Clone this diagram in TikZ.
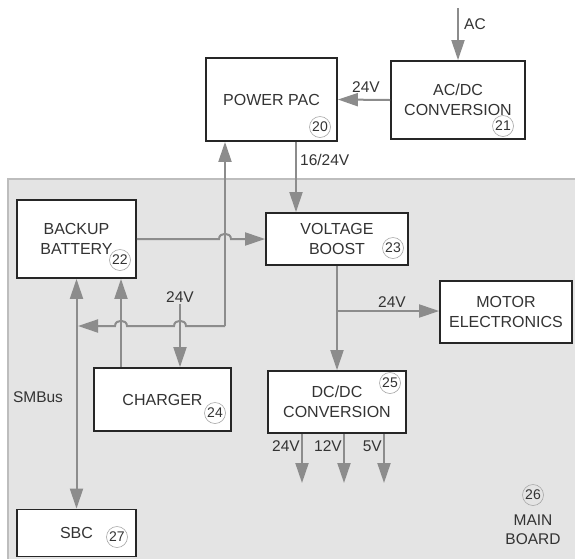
\documentclass[tikz,border=0pt]{standalone}
\usepackage{fontspec}
\setmainfont{Liberation Sans}
\usetikzlibrary{arrows.meta,positioning,calc}
\definecolor{wiregray}{HTML}{8C8C8C}
\definecolor{boardgray}{HTML}{E4E4E4}
\definecolor{boardedge}{HTML}{BDBDBD}
\definecolor{inkgray}{HTML}{333333}
\tikzset{
    % Block styles
    box/.style={rectangle, draw=black!85, line width=1.8pt, fill=white, align=center,
                inner sep=0pt, text=inkgray, font=\fontsize{16}{20}\selectfont},
    num/.style={circle, draw=black!35, line width=0.6pt, minimum size=21pt, inner sep=0pt,
                text=inkgray, font=\fontsize{14}{14}\selectfont},
    % Annotation styles
    lbl/.style={text=inkgray, font=\fontsize{15.5}{19}\selectfont, inner sep=1pt, align=center},
    % Arrow styles
    arrow/.style={-{Triangle[length=20pt,width=13pt]}, wiregray, line width=2pt},
    dblarrow/.style={{Triangle[length=20pt,width=13pt]}-{Triangle[length=20pt,width=13pt]}, wiregray, line width=2pt},
}

\begin{document}
\begin{tikzpicture}[x=1pt, y=-1pt]
    \useasboundingbox (0,0) rectangle (575,558);

    % Main board
    \filldraw[fill=boardgray, draw=boardedge, line width=1.5pt] (8,179) rectangle (590,575);

    % Blocks
    \node[box, minimum width=131pt, minimum height=83pt] (pwrpac) at (271.5,99.5) {POWER PAC};
    \node[box, minimum width=134pt, minimum height=78pt] (acdc) at (458,100) {AC/DC\\CONVERSION};
    \node[box, minimum width=119pt, minimum height=78pt] (battery) at (76.5,239) {BACKUP\\BATTERY};
    \node[box, minimum width=142pt, minimum height=52pt] (boost) at (337,239) {VOLTAGE\\BOOST};
    \node[box, minimum width=132pt, minimum height=62pt] (motor) at (506,312) {MOTOR\\ELECTRONICS};
    \node[box, minimum width=137pt, minimum height=63pt] (charger) at (162.5,399.5) {CHARGER};
    \node[box, minimum width=138pt, minimum height=62pt] (dcdc) at (337,402) {DC/DC\\CONVERSION};
    \node[box, minimum width=119pt, minimum height=47pt] (sbc) at (76.5,533) {SBC};

    % Reference numbers
    \node[num] (n20) at (320,127) {20};
    \node[num] (n21) at (503,126) {21};
    \node[num] (n22) at (120,260) {22};
    \node[num] (n23) at (393,248) {23};
    \node[num] (n24) at (215,413) {24};
    \node[num] (n25) at (390,383) {25};
    \node[num] (n26) at (533,495) {26};
    \node[num] (n27) at (117,537) {27};
    \node[lbl] (mainlbl) at (533,530) {MAIN\\BOARD};

    % Helper points
    \coordinate (acin) at (458,8);
    \coordinate (xpp) at (296,0);
    \coordinate (jn) at (225,326);
    \coordinate (tap) at (78,326);
    \coordinate (xch) at (121,0);
    \coordinate (br) at (337,311);

    % Arrows
    \draw[arrow] (acin) -- (acdc.north);
    \draw[arrow] (acdc.west) -- (pwrpac.east);
    \draw[arrow] (pwrpac.south -| xpp) -- (boost.north -| xpp);
    \draw[arrow] (jn) -- (pwrpac.south -| jn);
    \draw[arrow] (jn) -- (186,326) .. controls (186,319) and (174,319) .. (174,326)
        -- (127,326) .. controls (127,319) and (115,319) .. (115,326) -- (tap);
    \draw[arrow] (battery.east) -- (219,239) .. controls (219,232) and (231,232) .. (231,239)
        -- (boost.west);
    \draw[arrow] (charger.north -| xch) -- (battery.south -| xch);
    \draw[dblarrow] (battery.south) -- (sbc.north);
    \draw[arrow] (boost.south) -- (dcdc.north);
    \draw[arrow] (br) -- (motor.west |- br);
    \foreach \x/\v in {302/24V, 344/12V, 384/5V} {
        \coordinate (out\v) at (\x,483);
        \draw[arrow] (dcdc.south -| out\v) -- (out\v);
        \node[lbl, anchor=east] (lbl\v) at (\x-1,446) {\v};
    }

    % Labels
    \node[lbl, anchor=west] (aclbl) at (463,24) {AC};
    \node[lbl] (v24a) at (366,87) {24V};
    \node[lbl, anchor=west] (v16) at (299,160) {16/24V};
    \node[lbl] (v24c) at (180,297) {24V};
    \draw[arrow] (v24c.south) -- (charger.north -| v24c);
    \node[lbl] (v24m) at (392,302) {24V};
    \node[lbl] (smbus) at (38,397) {SMBus};
\end{tikzpicture}
\end{document}
